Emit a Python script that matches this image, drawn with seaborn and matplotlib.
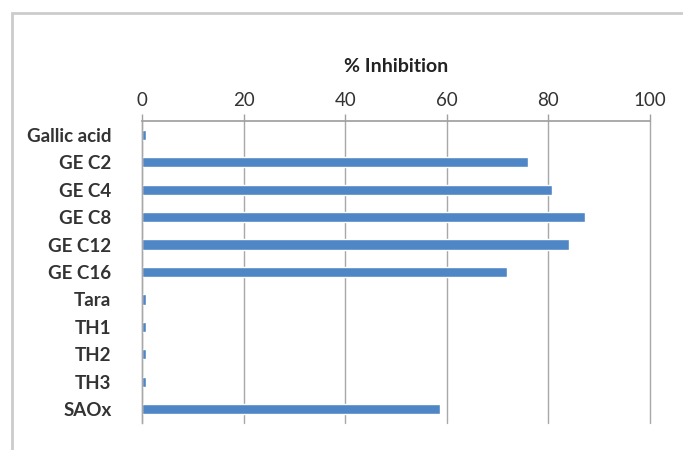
import matplotlib
matplotlib.use("Agg")
import matplotlib.pyplot as plt
import seaborn as sns
import pandas as pd
from matplotlib.patches import Rectangle

categories = ["Gallic acid", "GE C2", "GE C4", "GE C8", "GE C12", "GE C16",
              "Tara", "TH1", "TH2", "TH3", "SAOx"]
inhibition = [0.8, 76.0, 80.7, 87.2, 84.1, 71.9, 0.8, 0.8, 0.8, 0.8, 58.7]
x_ticks = [0, 20, 40, 60, 80, 100]
x_title = "% Inhibition"

df = pd.DataFrame({"cat": categories, "val": inhibition})

sns.set_theme(style="white")
plt.rcParams["font.family"] = ["Lato", "DejaVu Sans"]

W, H = 683, 450
fig = plt.figure(figsize=(W / 100, H / 100), dpi=100)
ax = fig.add_axes([142 / W, 1 - 423 / H, (650 - 142) / W, (423 - 121) / H])

sns.barplot(data=df, y="cat", x="val", orient="h", color="#4F86C6",
            saturation=1, width=0.37, ax=ax)

ax.set_xlim(0, 100)
ax.set_xticks(x_ticks)
ax.xaxis.tick_top()
ax.xaxis.set_label_position("top")
ax.set_xlabel(x_title, fontsize=14, fontweight="bold", color="#222222", labelpad=14)
ax.set_ylabel("")
ax.tick_params(axis="x", which="both", top=True, bottom=False, length=5,
               width=1, color="#A0A0A0", labelsize=13.5, labelcolor="#333333", pad=4)
ax.tick_params(axis="y", left=False, labelsize=13.5, labelcolor="#333333", pad=16)
for lab in ax.get_yticklabels():
    lab.set_fontweight("bold")
ax.grid(axis="x", color="#A8A8A8", linewidth=1)
for gl in ax.get_xgridlines():
    gl.set_clip_on(False)
ax.set_axisbelow(True)
for s in ["right", "bottom"]:
    ax.spines[s].set_visible(False)
ax.spines["top"].set_color("#A0A0A0")
ax.spines["left"].set_color("#A8A8A8")
ax.spines["left"].set_linewidth(1)

fig.patches.append(Rectangle((12 / W, -0.1), 1.1, 1 - 13 / H + 0.1,
                             transform=fig.transFigure, fill=False,
                             edgecolor="#CCCCCC", linewidth=2))

fig.savefig("out.png", dpi=100)
